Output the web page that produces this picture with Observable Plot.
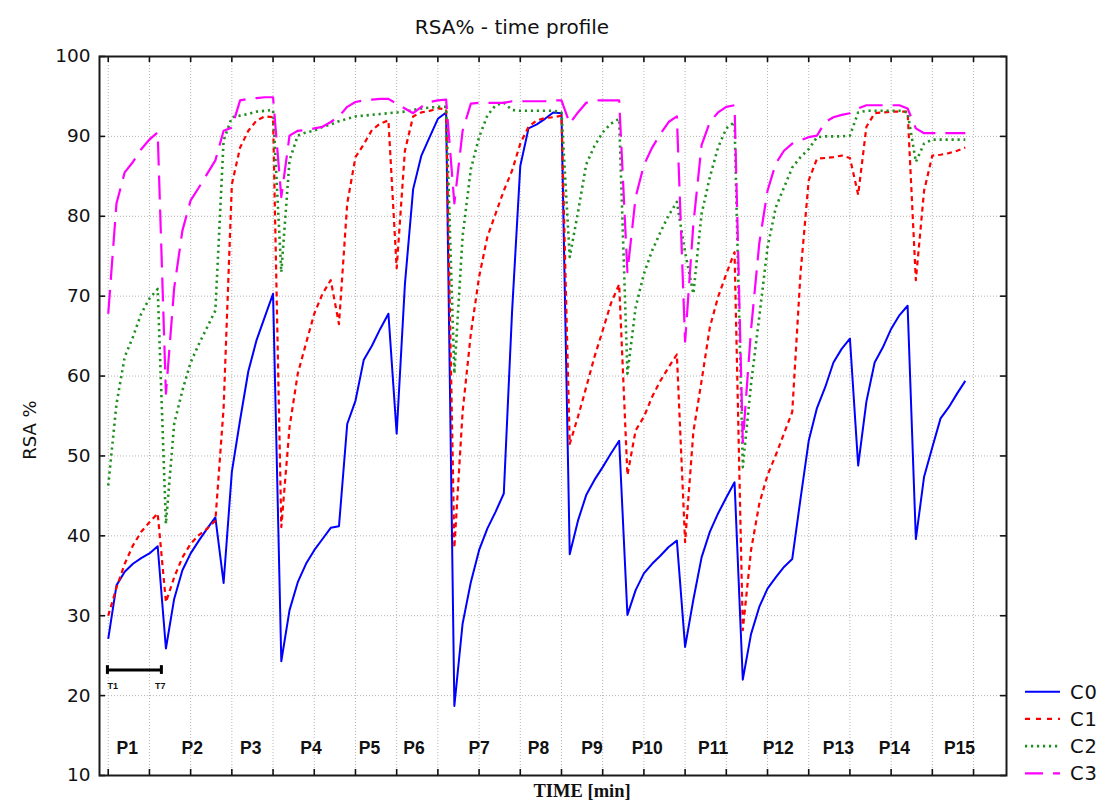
<!DOCTYPE html>
<html>
<head>
<meta charset="utf-8">
<script src="https://cdn.jsdelivr.net/npm/d3@7"></script>
<script src="https://cdn.jsdelivr.net/npm/@observablehq/plot@0.6"></script>
<style>
  html, body { margin: 0; padding: 0; background: #fff; }
  #chart { position: relative; width: 1103px; height: 806px; }
  #legend { position: absolute; left: 1018px; top: 676px; }
</style>
</head>
<body>
<div id="chart"></div>
<script>
// Fifteen periods, seven sampling times (T1..T7) each, one continuous time index.
const periods = ["P1","P2","P3","P4","P5","P6","P7","P8","P9","P10","P11","P12","P13","P14","P15"];
const samplesPerPeriod = 7;

// RSA % per sampling time, class C0
const c0 = [
  27.1, 33.8, 35.5, 36.5, 37.2, 37.8, 38.7,
  25.9, 32.1, 35.7, 37.8, 39.4, 40.9, 42.3,
  34.1, 48.0, 54.5, 60.6, 64.5, 67.4, 70.3,
  24.3, 30.7, 34.2, 36.5, 38.2, 39.6, 41.0,
  41.2, 54.0, 56.9, 62.0, 63.8, 65.9, 67.8,
  52.8, 71.5, 83.4, 87.6, 89.9, 92.2, 93.0,
  18.7, 29.0, 34.2, 38.2, 40.9, 43.0, 45.3,
  68.0, 86.3, 91.0, 91.5, 92.2, 93.0, 92.9,
  37.7, 41.9, 45.1, 47.0, 48.6, 50.3, 51.9,
  30.1, 33.2, 35.3, 36.5, 37.5, 38.6, 39.4,
  26.1, 32.0, 37.3, 40.5, 42.8, 44.8, 46.7,
  22.0, 27.7, 31.1, 33.4, 34.8, 36.1, 37.1,
  44.6, 51.9, 56.0, 58.6, 61.7, 63.4, 64.7,
  48.8, 56.8, 61.7, 63.6, 65.9, 67.6, 68.8,
  39.6, 47.4, 51.1, 54.7, 56.1, 57.8, 59.4
];

// class C1
const c1 = [
  30.0, 33.5, 36.5, 38.8, 40.5, 41.7, 42.8,
  31.7, 34.8, 37.3, 39.0, 40.1, 40.9, 41.9,
  56.0, 84.0, 88.6, 90.7, 92.0, 92.5, 92.4,
  41.1, 53.6, 60.3, 64.1, 67.8, 70.3, 72.0,
  66.5, 81.6, 87.4, 89.0, 90.8, 91.6, 92.0,
  73.5, 88.2, 92.5, 93.0, 93.2, 93.5, 93.4,
  38.5, 55.5, 65.3, 72.4, 77.4, 80.3, 83.2,
  85.7, 89.1, 91.2, 92.0, 92.3, 92.4, 92.6,
  51.5, 54.9, 58.6, 62.4, 65.7, 69.1, 71.5,
  47.6, 53.2, 54.9, 57.4, 59.4, 61.1, 62.7,
  39.2, 53.0, 59.4, 66.1, 69.9, 72.8, 75.5,
  28.2, 38.2, 44.0, 47.6, 50.1, 52.8, 55.5,
  72.8, 84.5, 87.2, 87.3, 87.4, 87.6, 87.3,
  82.7, 91.2, 92.9, 93.0, 93.1, 93.1, 93.1,
  72.0, 83.2, 87.6, 87.7, 87.9, 88.2, 88.6
];

// class C2
const c2 = [
  46.3, 56.5, 62.4, 64.9, 67.8, 69.7, 70.9,
  41.5, 54.0, 58.2, 61.7, 64.0, 66.1, 68.2,
  89.5, 92.4, 92.6, 92.8, 93.1, 93.2, 93.3,
  73.0, 87.0, 90.1, 90.5, 90.7, 91.2, 91.5,
  91.9, 92.2, 92.5, 92.6, 92.7, 92.8, 92.9,
  93.0, 93.1, 93.3, 93.5, 93.6, 93.7, 93.7,
  60.3, 77.5, 85.9, 89.9, 92.6, 93.9, 94.2,
  93.3, 93.2, 93.2, 93.2, 93.2, 93.2, 93.0,
  74.9, 80.5, 86.5, 88.8, 90.5, 91.6, 92.2,
  60.3, 68.6, 72.8, 75.7, 78.0, 80.1, 81.8,
  75.5, 70.3, 80.3, 84.9, 88.6, 91.0, 91.8,
  48.6, 59.0, 67.4, 76.1, 81.1, 83.6, 86.1,
  87.4, 88.4, 89.9, 90.0, 90.0, 90.0, 90.1,
  93.0, 93.2, 93.2, 93.2, 93.2, 93.2, 93.0,
  86.8, 89.1, 89.6, 89.6, 89.6, 89.6, 89.6
];

// class C3
const c3 = [
  67.8, 81.6, 85.5, 86.8, 88.4, 89.6, 90.5,
  57.8, 71.0, 78.2, 82.0, 83.6, 85.3, 87.0,
  90.7, 91.1, 94.5, 94.7, 94.8, 94.9, 94.9,
  82.4, 90.1, 90.7, 90.8, 91.0, 91.2, 91.8,
  92.5, 93.7, 94.3, 94.5, 94.6, 94.7, 94.7,
  94.1, 93.5, 92.9, 93.7, 94.3, 94.5, 94.6,
  81.6, 90.7, 94.1, 94.2, 94.2, 94.2, 94.2,
  94.4, 94.4, 94.4, 94.4, 94.4, 94.5, 94.5,
  91.6, 93.0, 94.2, 94.5, 94.5, 94.5, 94.5,
  73.0, 82.4, 86.4, 88.6, 90.3, 91.8, 92.5,
  64.3, 79.0, 88.9, 91.8, 93.0, 93.7, 93.9,
  51.7, 65.8, 76.6, 83.2, 86.6, 88.2, 89.1,
  89.5, 89.9, 90.1, 91.8, 92.4, 92.7, 92.9,
  93.5, 93.9, 93.9, 93.9, 93.9, 93.9, 93.5,
  91.0, 90.4, 90.4, 90.4, 90.4, 90.4, 90.4
];

// axis ticks (the time axis carries marks only, no numbers)
const yTicks = [10, 20, 30, 40, 50, 60, 70, 80, 90, 100];
const xTicks = d3.range(0, 106, 5);

// where each period name sits along the time index, and its height in RSA %
const periodLabelAt = [2.3, 10.2, 17.3, 24.6, 31.7, 37.1, 45.0, 52.2, 58.7, 65.4, 73.4, 81.3, 88.6, 95.4, 103.3];
const periodLabelLevel = 13.4;

// T1..T7 duration bar drawn under the first period
const durationBar = {from: -0.1, to: 6.45, level: 23.2, labelLevel: 21.2};

// line styling per class
const seriesStyle = [
  {name: "C0", values: c0, stroke: "#0000ff", width: 2,   dash: null},
  {name: "C1", values: c1, stroke: "#ff0000", width: 2.2, dash: "5,4"},
  {name: "C2", values: c2, stroke: "#1f8f1f", width: 2.6, dash: "2.2,3.8"},
  {name: "C3", values: c3, stroke: "#ff00ff", width: 2.2, dash: "24,10"}
];

const rows = seriesStyle.flatMap(s =>
  s.values.map((v, i) => ({series: s.name, t: i, period: periods[Math.floor(i / samplesPerPeriod)], rsa: v}))
);

const W = 1103, H = 806;
const mL = 99, mR = 97, mT = 56, mB = 31;
const frameW = W - mL - mR;
const frameH = H - mT - mB;
const tickLen = 6;
const sans = "'DejaVu Sans', 'Liberation Sans', Arial, sans-serif";
const boldSans = "'Liberation Sans', Arial, sans-serif";

const lineMarks = seriesStyle.map(s => Plot.line(rows.filter(r => r.series === s.name), {
  x: "t", y: "rsa",
  stroke: s.stroke, strokeWidth: s.width,
  strokeDasharray: s.dash, strokeLinecap: "butt", strokeLinejoin: "round"
}));

const chart = Plot.plot({
  width: W, height: H,
  marginLeft: mL, marginRight: mR, marginTop: mT, marginBottom: mB,
  style: {background: "#fff", fontFamily: sans, overflow: "visible"},
  x: {type: "linear", domain: [-1.06, 109.0], axis: null},
  y: {type: "linear", domain: [10, 100], axis: null},
  marks: [
    Plot.gridX(xTicks, {stroke: "#b4b4b4", strokeOpacity: 1, strokeDasharray: "1,2"}),
    Plot.gridY(yTicks, {stroke: "#b4b4b4", strokeOpacity: 1, strokeDasharray: "1,2"}),
    ...lineMarks,
    // inward tick marks on all four sides
    Plot.ruleX(xTicks, {x: d => d, insetTop: frameH - tickLen, stroke: "#111", strokeWidth: 1.6}),
    Plot.ruleX(xTicks, {x: d => d, insetBottom: frameH - tickLen, stroke: "#111", strokeWidth: 1.6}),
    Plot.ruleY(yTicks, {y: d => d, insetRight: frameW - tickLen, stroke: "#111", strokeWidth: 1.6}),
    Plot.ruleY(yTicks, {y: d => d, insetLeft: frameW - tickLen, stroke: "#111", strokeWidth: 1.6}),
    Plot.frame({stroke: "#1a1a1a", strokeWidth: 2}),
    Plot.axisY(yTicks, {anchor: "left", tickSize: 0, tickPadding: 9, fontSize: 18.5, label: null, fill: "#111", fontFamily: sans}),
    // period names
    Plot.text(periods, {
      x: (d, i) => periodLabelAt[i], y: () => periodLabelLevel, text: d => d,
      fontFamily: boldSans, fontWeight: "bold", fontSize: 17.5, fill: "#111"
    }),
    // duration bar T1..T7 with end caps
    Plot.ruleY([durationBar.level], {y: d => d, x1: () => durationBar.from, x2: () => durationBar.to, stroke: "#000", strokeWidth: 3}),
    Plot.ruleX([durationBar.from, durationBar.to], {x: d => d, y1: () => durationBar.level - 0.55, y2: () => durationBar.level + 0.55, stroke: "#000", strokeWidth: 3}),
    Plot.text(["T1"], {x: () => durationBar.from, y: () => durationBar.labelLevel, text: d => d, textAnchor: "start", fontSize: 9, fontWeight: "bold", fill: "#111", fontFamily: boldSans}),
    Plot.text(["T7"], {x: () => durationBar.to - 0.15, y: () => durationBar.labelLevel, text: d => d, textAnchor: "middle", fontSize: 9, fontWeight: "bold", fill: "#111", fontFamily: boldSans}),
    // titles
    Plot.text(["RSA% - time profile"], {frameAnchor: "top", dx: -41, dy: -37, text: d => d, fontSize: 20, fill: "#111", fontFamily: sans}),
    Plot.text(["TIME [min]"], {frameAnchor: "bottom", x: () => 57.5, dy: 21, text: d => d, fontSize: 18.5, fontWeight: "bold", fill: "#111", fontFamily: "'Liberation Serif', 'Times New Roman', serif"})
  ]
});

const host = document.getElementById("chart");
host.appendChild(chart);

// vertical axis title, set just left of the tick numbers
d3.select(chart).append("text")
  .attr("transform", "translate(36,430) rotate(-90)")
  .attr("text-anchor", "middle")
  .attr("font-family", sans)
  .attr("font-size", 18)
  .attr("fill", "#111")
  .text("RSA %");

// legend: one sample segment per class with its name
const legend = d3.select(host).append("svg")
  .attr("id", "legend")
  .attr("width", 85).attr("height", 112)
  .style("font-family", sans);
const rowGap = 27.2, firstRow = 15.7;
seriesStyle.forEach((s, k) => {
  const y = firstRow + k * rowGap;
  legend.append("line")
    .attr("x1", 7).attr("x2", 42).attr("y1", y).attr("y2", y)
    .attr("stroke", s.stroke).attr("stroke-width", s.width)
    .attr("stroke-dasharray", s.name === "C3" ? "18,10" : s.name === "C1" ? "5,6" : s.dash);
  legend.append("text")
    .attr("x", 52).attr("y", y).attr("dy", "0.36em")
    .attr("font-size", 19.5).attr("letter-spacing", 1).attr("fill", "#111")
    .text(s.name);
});
</script>
</body>
</html>
